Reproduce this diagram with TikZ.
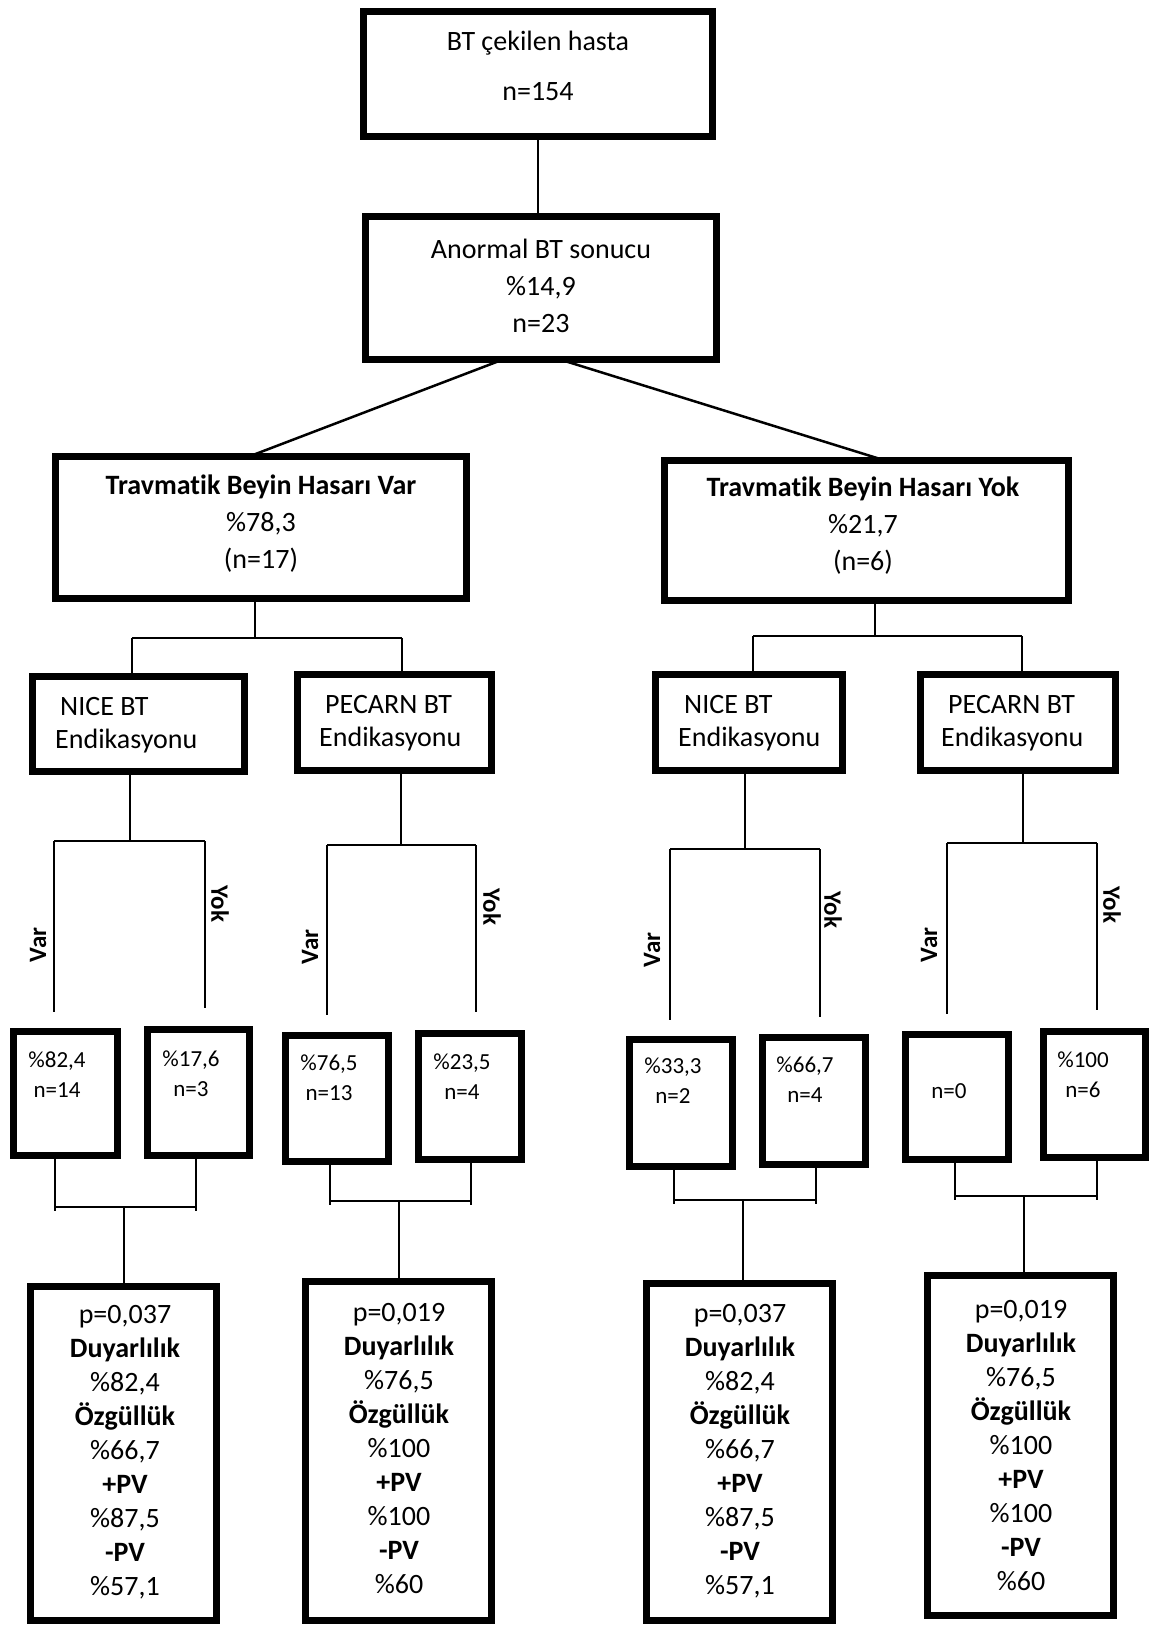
\documentclass[tikz,border=0pt]{standalone}
\usepackage{fontspec}
\setmainfont[Ligatures={NoCommon,NoRare}]{Carlito}
\usetikzlibrary{calc}
\begin{document}
\begin{tikzpicture}[x=1pt,y=-1pt,
  box/.style={draw,line width=7pt,rectangle,inner sep=0pt,outer sep=0pt},
  conn/.style={line width=2pt},
  diag/.style={line width=2.5pt},
  big/.style={font=\fontsize{28}{37}\selectfont,align=center,inner sep=0pt},
  mid/.style={font=\fontsize{28}{34}\selectfont,align=center,inner sep=0pt},
  sm/.style={font=\fontsize{23}{30}\selectfont,align=center,inner sep=0pt},
  lbl/.style={font=\fontsize{25}{30}\selectfont\bfseries,inner sep=0pt},
  itm/.style={font=\fontsize{28}{34}\selectfont,anchor=west,inner sep=0pt}]
\useasboundingbox (0,0) rectangle (1149,1627);

% level 1-2
\node[box,minimum width=349pt,minimum height=125pt] (top) at (538,74) {};
\node[big] (topa) at (538,43) {BT çekilen hasta};
\node[big] (topb) at (538,92) {n=154};
\node[box,minimum width=351pt,minimum height=143pt] (b2) at (541,288) {};
\node[big] (b2t) at (541,286) {Anormal BT sonucu\\\%14,9\\n=23};

% level 3
\node[box,minimum width=411pt,minimum height=142pt] (b3) at (261,527.5) {};
\node[big] (b3t) at (261,524) {\textbf{Travmatik Beyin Hasarı Var}\\\%78,3\\(n=17)};
\node[box,minimum width=404pt,minimum height=140pt] (b4) at (866.5,530.5) {};
\node[big] (b4t) at (863,526) {\textbf{Travmatik Beyin Hasarı Yok}\\\%21,7\\(n=6)};

% level 4
\node[box,minimum width=212pt,minimum height=95pt] (n1) at (138.5,724) {};
\node[itm] (n1a) at (60,707) {NICE BT};
\node[itm] (n1b) at (55,741) {Endikasyonu};
\node[box,minimum width=194pt,minimum height=96pt] (p1) at (394.5,722.5) {};
\node[itm] (p1a) at (325,705) {PECARN BT};
\node[itm] (p1b) at (319,739) {Endikasyonu};
\node[box,minimum width=187pt,minimum height=96pt] (n2) at (749,722.5) {};
\node[itm] (n2a) at (684,705) {NICE BT};
\node[itm] (n2b) at (678,739) {Endikasyonu};
\node[box,minimum width=195pt,minimum height=96pt] (p2) at (1018,722.5) {};
\node[itm] (p2a) at (948,705) {PECARN BT};
\node[itm] (p2b) at (941,739) {Endikasyonu};

% small boxes
\node[box,minimum width=104pt,minimum height=124pt] (s1) at (65.5,1093.5) {};
\node[sm] (s1t) at (57,1075) {\%82,4\\n=14};
\node[box,minimum width=102pt,minimum height=126pt] (s2) at (198.5,1092.5) {};
\node[sm] (s2t) at (191,1074) {\%17,6\\n=3};
\node[box,minimum width=103pt,minimum height=126pt] (s3) at (337,1098.5) {};
\node[sm] (s3t) at (329,1078) {\%76,5\\n=13};
\node[box,minimum width=103pt,minimum height=126pt] (s4) at (470,1096.5) {};
\node[sm] (s4t) at (462,1077) {\%23,5\\n=4};
\node[box,minimum width=103pt,minimum height=127pt] (s5) at (681,1103) {};
\node[sm] (s5t) at (673,1081) {\%33,3\\n=2};
\node[box,minimum width=103pt,minimum height=127pt] (s6) at (814,1101) {};
\node[sm] (s6t) at (805,1080) {\%66,7\\n=4};
\node[box,minimum width=103pt,minimum height=125pt] (s7) at (957,1097) {};
\node[sm] (s7t) at (949,1091) {n=0};
\node[box,minimum width=102pt,minimum height=126pt] (s8) at (1094.5,1094.5) {};
\node[sm] (s8t) at (1083,1075) {\%100\\n=6};

% bottom boxes
\node[box,minimum width=186pt,minimum height=334pt] (r1) at (123.5,1453.5) {};
\node[mid] (r1t) at (125,1452) {p=0,037\\\textbf{Duyarlılık}\\\%82,4\\\textbf{Özgüllük}\\\%66,7\\\textbf{+PV}\\\%87,5\\\textbf{-PV}\\\%57,1};
\node[box,minimum width=186pt,minimum height=339pt] (r2) at (398.5,1451) {};
\node[mid] (r2t) at (399,1449) {p=0,019\\\textbf{Duyarlılık}\\\%76,5\\\textbf{Özgüllük}\\\%100\\\textbf{+PV}\\\%100\\\textbf{-PV}\\\%60};
\node[box,minimum width=186pt,minimum height=337pt] (r3) at (739.5,1452) {};
\node[mid] (r3t) at (740,1451) {p=0,037\\\textbf{Duyarlılık}\\\%82,4\\\textbf{Özgüllük}\\\%66,7\\\textbf{+PV}\\\%87,5\\\textbf{-PV}\\\%57,1};
\node[box,minimum width=186pt,minimum height=340pt] (r4) at (1020.5,1445.5) {};
\node[mid] (r4t) at (1021,1446) {p=0,019\\\textbf{Duyarlılık}\\\%76,5\\\textbf{Özgüllük}\\\%100\\\textbf{+PV}\\\%100\\\textbf{-PV}\\\%60};

% Var / Yok labels
\node[lbl,rotate=90] (v1) at (38,945) {Var};
\node[lbl,rotate=-90] (y1) at (220,904) {Yok};
\node[lbl,rotate=90] (v2) at (310,947) {Var};
\node[lbl,rotate=-90] (y2) at (492,907) {Yok};
\node[lbl,rotate=90] (v3) at (652,950) {Var};
\node[lbl,rotate=-90] (y3) at (833,910) {Yok};
\node[lbl,rotate=90] (v4) at (929,945) {Var};
\node[lbl,rotate=-90] (y4) at (1112,905) {Yok};

% connectors top
\draw[conn] (top.south) -- (top.south |- b2.north);
\draw[diag] (b2.south) ++(-38,0) -- ($(b3.north)+(-12,0)$);
\draw[diag] (b2.south) ++(19,0) -- ($(b4.north)+(18.5,0)$);

% under b3
\coordinate (j3) at (255,638);
\coordinate (j3l) at (132,638);
\coordinate (j3r) at (402,638);
\draw[conn] (b3.south -| j3) -- (j3);
\draw[conn] (j3l) -- (j3r);
\draw[conn] (j3l) -- (j3l |- n1.north);
\draw[conn] (j3r) -- (j3r |- p1.north);
% under b4
\coordinate (j4) at (875,636);
\coordinate (j4l) at (753,636);
\coordinate (j4r) at (1022,636);
\draw[conn] (b4.south -| j4) -- (j4);
\draw[conn] (j4l) -- (j4r);
\draw[conn] (j4l) -- (j4l |- n2.north);
\draw[conn] (j4r) -- (j4r |- p2.north);

% under level-4 boxes
\coordinate (k1) at (130,841); \coordinate (k1l) at (54,841); \coordinate (k1r) at (205,841);
\coordinate (e1l) at (54,1012); \coordinate (e1r) at (205,1008);
\draw[conn] (n1.south -| k1) -- (k1);
\draw[conn] (k1l) -- (k1r);
\draw[conn] (k1l) -- (e1l);
\draw[conn] (k1r) -- (e1r);

\coordinate (k2) at (401,845); \coordinate (k2l) at (327,845); \coordinate (k2r) at (476,845);
\coordinate (e2l) at (327,1015); \coordinate (e2r) at (476,1012);
\draw[conn] (p1.south -| k2) -- (k2);
\draw[conn] (k2l) -- (k2r);
\draw[conn] (k2l) -- (e2l);
\draw[conn] (k2r) -- (e2r);

\coordinate (k3) at (745,849); \coordinate (k3l) at (670,849); \coordinate (k3r) at (820,849);
\coordinate (e3l) at (670,1020); \coordinate (e3r) at (820,1017);
\draw[conn] (n2.south -| k3) -- (k3);
\draw[conn] (k3l) -- (k3r);
\draw[conn] (k3l) -- (e3l);
\draw[conn] (k3r) -- (e3r);

\coordinate (k4) at (1023,843); \coordinate (k4l) at (947,843); \coordinate (k4r) at (1097,843);
\coordinate (e4l) at (947,1014); \coordinate (e4r) at (1097,1010);
\draw[conn] (p2.south -| k4) -- (k4);
\draw[conn] (k4l) -- (k4r);
\draw[conn] (k4l) -- (e4l);
\draw[conn] (k4r) -- (e4r);

% pair joins below small boxes
\coordinate (m1l) at (55,1207); \coordinate (m1r) at (196,1207); \coordinate (m1) at (124,1207);
\draw[conn] (s1.south -| m1l) -- ($(m1l)+(0,4)$);
\draw[conn] (s2.south -| m1r) -- ($(m1r)+(0,4)$);
\draw[conn] (m1l) -- (m1r);
\draw[conn] (m1) -- (m1 |- r1.north);

\coordinate (m2l) at (330,1201); \coordinate (m2r) at (471,1201); \coordinate (m2) at (399,1201);
\draw[conn] (s3.south -| m2l) -- ($(m2l)+(0,4)$);
\draw[conn] (s4.south -| m2r) -- ($(m2r)+(0,4)$);
\draw[conn] (m2l) -- (m2r);
\draw[conn] (m2) -- (m2 |- r2.north);

\coordinate (m3l) at (674,1200); \coordinate (m3r) at (816,1200); \coordinate (m3) at (743,1200);
\draw[conn] (s5.south -| m3l) -- ($(m3l)+(0,4)$);
\draw[conn] (s6.south -| m3r) -- ($(m3r)+(0,4)$);
\draw[conn] (m3l) -- (m3r);
\draw[conn] (m3) -- (m3 |- r3.north);

\coordinate (m4l) at (955,1196); \coordinate (m4r) at (1097,1196); \coordinate (m4) at (1024,1196);
\draw[conn] (s7.south -| m4l) -- ($(m4l)+(0,4)$);
\draw[conn] (s8.south -| m4r) -- ($(m4r)+(0,4)$);
\draw[conn] (m4l) -- (m4r);
\draw[conn] (m4) -- (m4 |- r4.north);
\end{tikzpicture}
\end{document}
